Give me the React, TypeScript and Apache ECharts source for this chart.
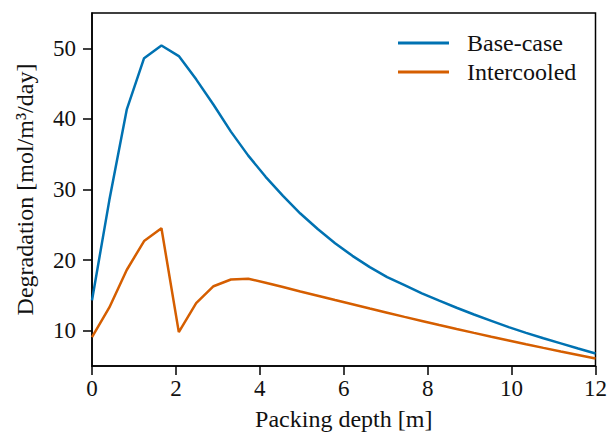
import React, { useEffect, useRef } from "react";
import * as echarts from "echarts";

const depthCount = 30;
const depthMax = 12;
const baseCase = [
  14.3, 28.5, 41.3, 48.6, 50.4, 48.9, 45.6, 42.0, 38.2, 34.8,
  31.8, 29.1, 26.6, 24.4, 22.4, 20.6, 19.0, 17.6, 16.45, 15.3,
  14.25, 13.25, 12.3, 11.4, 10.5, 9.7, 8.93, 8.2, 7.47, 6.77,
];
const intercooled = [
  9.1, 13.3, 18.6, 22.7, 24.5, 9.8, 13.9, 16.3, 17.25, 17.35,
  16.8, 16.18, 15.56, 14.95, 14.34, 13.74, 13.14, 12.55, 11.96, 11.38,
  10.8, 10.24, 9.69, 9.15, 8.62, 8.09, 7.57, 7.06, 6.56, 6.06,
];
const yTicks = [10, 20, 30, 40, 50];
const seriesNames = ["Base-case", "Intercooled"];

const depths = Array.from({ length: depthCount }, (_, i) => (i * depthMax) / (depthCount - 1));

export default function App() {
  const ref = useRef<HTMLDivElement>(null);
  useEffect(() => {
    if (!ref.current) return;
    const chart = echarts.init(ref.current, null, { renderer: "svg" });
    const font = "Liberation Serif";
    const tickFs = 23;
    const nameFs = 24;
    chart.setOption({
      animation: false,
      backgroundColor: "#ffffff",
      textStyle: { fontFamily: font },
      grid: {
        left: 92,
        right: 13,
        top: 13,
        bottom: 72,
        show: true,
        borderColor: "#000",
        borderWidth: 1.5,
        containLabel: false,
      },
      legend: {
        orient: "vertical",
        left: 393,
        top: 26,
        itemWidth: 51,
        itemHeight: 3,
        itemGap: 5,
        icon: "rect",
        textStyle: {
          fontFamily: font,
          fontSize: nameFs,
          color: "#111",
          lineHeight: 24,
          padding: [0, 0, 0, 13],
        },
        data: seriesNames,
      },
      xAxis: {
        type: "value",
        min: 0,
        max: 12,
        interval: 2,
        name: "Packing depth [m]",
        nameLocation: "middle",
        nameGap: 41,
        nameTextStyle: { fontFamily: font, fontSize: nameFs, color: "#111" },
        axisLine: { lineStyle: { color: "#000", width: 1.5 } },
        axisTick: { length: 9, inside: false, lineStyle: { color: "#000", width: 1.5 } },
        axisLabel: { fontFamily: font, fontSize: tickFs, color: "#111", margin: 11 },
        splitLine: { show: false },
      },
      yAxis: {
        type: "value",
        min: 5,
        max: 55,
        name: "Degradation [mol/m³/day]",
        nameLocation: "middle",
        nameGap: 55,
        nameRotate: 90,
        nameTextStyle: { fontFamily: font, fontSize: nameFs, color: "#111" },
        axisLine: { show: true, lineStyle: { color: "#000", width: 1.5 } },
        axisTick: {
          show: true,
          length: 9,
          customValues: yTicks,
          lineStyle: { color: "#000", width: 1.5 },
        },
        axisLabel: {
          fontFamily: font,
          fontSize: tickFs,
          color: "#111",
          margin: 16,
          customValues: yTicks,
        },
        splitLine: { show: false },
      },
      series: [
        {
          name: seriesNames[0],
          type: "line",
          showSymbol: false,
          symbol: "none",
          data: depths.map((d, i) => [d, baseCase[i]]),
          lineStyle: { color: "#0072B2", width: 2.5 },
          itemStyle: { color: "#0072B2" },
        },
        {
          name: seriesNames[1],
          type: "line",
          showSymbol: false,
          symbol: "none",
          data: depths.map((d, i) => [d, intercooled[i]]),
          lineStyle: { color: "#D55E00", width: 2.5 },
          itemStyle: { color: "#D55E00" },
        },
      ],
    });
    return () => chart.dispose();
  }, []);
  return <div ref={ref} style={{ width: 610, height: 438, position: "absolute", left: 0, top: 0 }} />;
}
